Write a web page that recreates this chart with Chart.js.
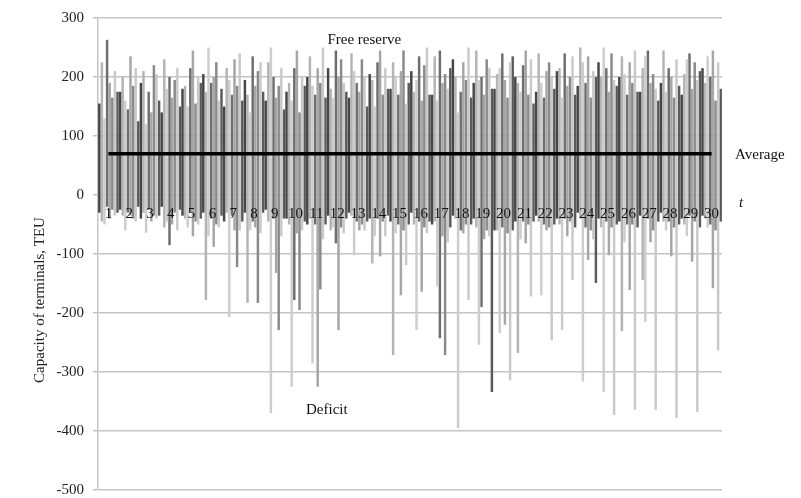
<!DOCTYPE html>
<html>
<head>
<meta charset="utf-8">
<script src="https://cdn.jsdelivr.net/npm/chart.js@4.4.1/dist/chart.umd.min.js"></script>
<style>
  html, body { margin: 0; padding: 0; background: #fff; }
  #wrap { width: 801px; height: 498px; }
</style>
</head>
<body>
<div id="wrap"><canvas id="chart" width="801" height="498"></canvas></div>
<script>
// jours 1..30
const days = [];
for (let i = 1; i <= 30; i++) days.push(String(i));

const yTicks = [300, 200, 100, 0, -100, -200, -300, -400, -500];
const average = 70;

// valeurs hautes (reserve) par serie
const high0 = [155,175,190,140,180,205,150,195,160,175,200,215,165,205,180,210,170,230,190,180,200,175,210,185,225,200,175,190,170,215];
const high1 = [225,200,210,230,185,175,215,170,225,190,235,180,240,195,225,175,235,200,245,205,190,240,215,250,200,235,215,245,205,190];
const high2 = [130,160,120,180,150,250,195,140,250,160,185,165,210,150,200,195,160,140,195,215,175,190,165,225,250,205,235,175,230,235];
const high3 = [263,145,175,200,215,190,170,235,200,215,170,245,190,225,170,235,245,175,200,240,220,165,240,190,215,170,245,215,240,200];
const high4 = [190,235,140,165,245,200,230,185,165,245,215,200,175,245,210,160,190,225,170,195,245,210,185,235,175,225,190,200,180,245];
const high5 = [165,185,220,195,155,225,185,210,185,140,190,230,230,170,245,220,205,195,230,165,170,225,200,165,240,190,205,165,225,160];
const high6 = [210,215,205,215,200,160,240,225,215,200,250,190,200,215,155,250,180,250,215,225,230,200,235,210,195,245,180,230,195,225];
const high7 = [175,125,160,150,190,180,160,175,145,185,165,175,150,180,190,170,215,165,180,235,155,180,170,200,185,175,160,185,210,180];

// valeurs basses (deficit) par serie
const low0 = [-30,-25,-40,-20,-35,-30,-45,-30,-25,-40,-50,-35,-30,-40,-45,-30,-50,-35,-40,-60,-45,-35,-40,-30,-40,-45,-35,-30,-40,-35];
const low1 = [-45,-35,-30,-55,-40,-178,-30,-183,-45,-50,-40,-60,-35,-116,-271,-50,-45,-40,-55,-60,-268,-45,-50,-40,-55,-231,-144,-45,-50,-40];
const low2 = [-50,-60,-64,-45,-55,-70,-207,-60,-370,-325,-285,-55,-102,-70,-65,-229,-155,-395,-254,-234,-75,-170,-229,-316,-334,-80,-215,-60,-70,-55];
const low3 = [-20,-30,-25,-85,-30,-40,-35,-45,-40,-178,-50,-82,-45,-40,-50,-45,-243,-60,-190,-55,-45,-50,-40,-55,-45,-50,-40,-45,-35,-50];
const low4 = [-40,-35,-45,-50,-70,-88,-60,-55,-132,-65,-325,-229,-60,-104,-170,-164,-70,-65,-75,-220,-82,-60,-70,-110,-102,-161,-80,-104,-113,-158];
const low5 = [-25,-40,-35,-30,-45,-50,-122,-183,-229,-195,-160,-55,-50,-45,-60,-55,-271,-50,-60,-65,-50,-55,-45,-60,-55,-50,-60,-55,-45,-60];
const low6 = [-35,-45,-40,-60,-50,-55,-60,-65,-70,-60,-75,-65,-60,-70,-119,-65,-80,-178,-70,-314,-172,-246,-144,-75,-373,-364,-364,-378,-368,-263];
const low7 = [-30,-20,-35,-25,-40,-35,-45,-30,-40,-45,-50,-40,-45,-35,-50,-45,-55,-50,-334,-60,-45,-50,-55,-149,-50,-55,-45,-50,-55,-45];

const highs = [high0, high1, high2, high3, high4, high5, high6, high7];
const lows = [low0, low1, low2, low3, low4, low5, low6, low7];
const shades = ['#474747', '#b4b4b4', '#cdcdcd', '#6e6e6e', '#a6a6a6', '#8a8a8a', '#c9c9c9', '#5a5a5a'];

const serif = "'Liberation Serif', 'DejaVu Serif', serif";

const datasets = highs.map((h, k) => ({
    type: 'bar',
    data: h.map((v, i) => [lows[k][i], v]),
    backgroundColor: shades[k],
    borderWidth: 0,
    categoryPercentage: 1.0,
    barPercentage: 0.95,
    order: 2
}));

datasets.push({
    type: 'line',
    data: days.map(() => average),
    borderColor: '#000',
    borderWidth: 3.5,
    pointRadius: 0,
    fill: false,
    order: 1
});

// textes sur le graphique (dessines apres les barres)
const textPlugin = {
    id: 'texts',
    afterDraw(c) {
        const ctx = c.ctx;
        const x = c.scales.x, y = c.scales.y;
        ctx.save();
        ctx.fillStyle = '#111';
        ctx.textBaseline = 'middle';
        ctx.textAlign = 'center';
        ctx.font = "15px " + serif;
        const y0 = y.getPixelForValue(0) + 19;
        days.forEach((d, i) => ctx.fillText(d, x.getPixelForValue(i), y0));
        ctx.fillText('Free reserve', x.getPixelForValue(12.3), y.getPixelForValue(262));
        ctx.fillText('Deficit', x.getPixelForValue(10.5), y.getPixelForValue(-364));
        ctx.textAlign = 'left';
        ctx.fillText('Average', c.chartArea.right + 13, y.getPixelForValue(68));
        ctx.font = "italic 15px " + serif;
        ctx.fillText('t', c.chartArea.right + 17, y.getPixelForValue(-13));
        // titre axe y
        ctx.translate(40, 300);
        ctx.rotate(-Math.PI / 2);
        ctx.textAlign = 'center';
        ctx.font = "15px " + serif;
        ctx.fillStyle = '#222';
        ctx.fillText('Capacity of terminals, TEU', 0, 0);
        ctx.restore();
    }
};

let chart = new Chart(document.getElementById('chart'), {
    data: { labels: days, datasets: datasets },
    options: {
        responsive: false,
        animation: false,
        layout: { padding: { left: 50, right: 79, top: 18, bottom: 8 } },
        plugins: {
            legend: { display: false },
            tooltip: { enabled: false }
        },
        scales: {
            x: {
                type: 'category',
                position: { y: 0 },
                grid: { display: false },
                border: { display: false },
                ticks: { display: false }
            },
            y: {
                min: -500,
                max: 300,
                afterBuildTicks: s => { s.ticks = yTicks.map(v => ({ value: v })); },
                afterFit: s => { s.width = 48; s.paddingTop = 0; s.paddingBottom = 0; },
                grid: { color: '#c4c4c4', lineWidth: 1.5, drawTicks: true, tickLength: 5 },
                border: { display: true, color: '#c4c4c4', width: 1.5 },
                ticks: {
                    color: '#222',
                    font: { family: serif, size: 15 },
                    padding: 9
                }
            }
        }
    },
    plugins: [textPlugin]
});
</script>
</body>
</html>
